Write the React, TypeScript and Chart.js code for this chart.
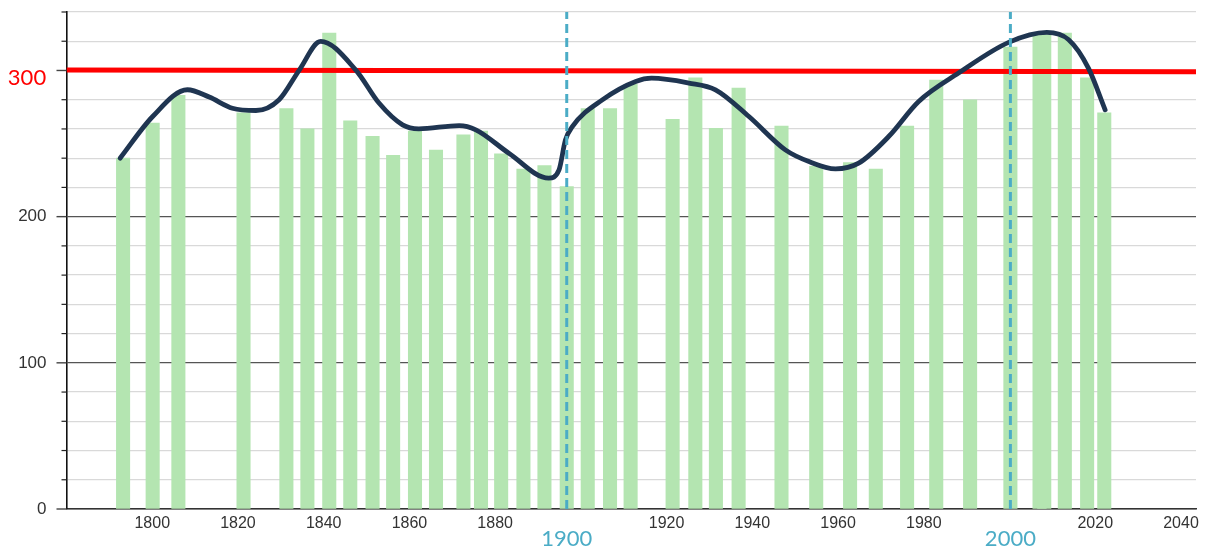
import React, { useEffect, useRef } from "react";
import { Chart, registerables } from "chart.js";

Chart.register(...registerables);

// Bars: year positions and values
const barYears = [1793.2, 1800.1, 1806.1, 1821.3, 1831.3, 1836.2, 1841.3, 1846.2, 1851.4, 1856.2, 1861.3, 1866.2, 1872.6, 1876.7, 1881.4, 1886.6, 1891.5, 1896.7, 1901.6, 1906.8, 1911.6, 1921.4, 1926.7, 1931.5, 1936.8, 1946.8, 1954.9, 1962.8, 1968.8, 1976.1, 1982.9, 1990.8, 2000.2, 2007.0, 2008.1, 2012.9, 2018.1, 2022.1];
const barValues = [240, 264, 283, 271, 274, 260, 325.5, 265.5, 255, 242, 258.5, 245.5, 256, 258.5, 243, 232.5, 235, 220.5, 274, 274, 290.5, 266.5, 295, 260.5, 288, 262, 234.5, 237, 232.5, 262, 293.5, 280, 316, 324.5, 324.5, 325.5, 295, 271];

// Smoothed trend curve
const trendYears = [1792.5, 1800.1, 1808.2, 1813.3, 1818.7, 1824.2, 1829.6, 1834.3, 1839.3, 1847.5, 1852.9, 1858.4, 1862.2, 1871.6, 1875.5, 1883.2, 1892.5, 1894.9, 1896.4, 1898, 1905, 1912.8, 1916.5, 1925.2, 1931.4, 1939.2, 1947.7, 1953.2, 1959.4, 1964.8, 1971.8, 1978.8, 1988.1, 1999.8, 2008.7, 2013.8, 2018.4, 2022.3];
const trendValues = [240, 268.5, 286.8, 281.8, 274.2, 272.6, 280, 300.3, 319.9, 300.3, 277.7, 262.8, 260.1, 262.3, 259.4, 243.4, 226.3, 232, 252.5, 261.6, 279.9, 292.5, 294.7, 291.4, 286.8, 268.5, 245.7, 237.7, 232.7, 236.6, 254.8, 278.8, 298.2, 319.2, 326, 321, 301.6, 273.1];

// Red threshold line
const thresholdYears = [1780, 2043.5];
const thresholdValues = [300.4, 299.2];
const thresholdLabel = "300";

// Dashed century markers
const markerYears = [1896.7, 2000.2];
const markerLabels = ["1900", "2000"];
const markerRange = [0, 340];

// Axes
const xMin = 1780;
const xMax = 2043.5;
const xStep = 20;
const xHiddenLabels = [1780, 1900, 2000];
const yMin = 0;
const yMax = 340;
const yStep = 20;
const yLabelValues = [0, 100, 200];

const overlayPlugin = {
  id: "overlay",
  afterDraw(chart: any) {
    const { ctx, scales } = chart;
    const x = scales.x;
    const y = scales.y;
    const axisX = chart.chartArea.left;
    ctx.save();
    // tick marks on y axis
    y.ticks.forEach((t: any) => {
      const py = y.getPixelForValue(t.value);
      const major = t.value % 100 === 0;
      ctx.beginPath();
      ctx.strokeStyle = major ? "#444" : "#222";
      ctx.lineWidth = major ? 1.4 : 1.2;
      ctx.moveTo(axisX - (major ? 10 : 5), py);
      ctx.lineTo(axisX, py);
      ctx.stroke();
    });
    // red 300 label
    ctx.fillStyle = "#ff0000";
    ctx.font = "22px Lato";
    ctx.textAlign = "center";
    ctx.textBaseline = "middle";
    ctx.fillText(thresholdLabel, 27, y.getPixelForValue(300) + 7);
    // cyan marker labels
    ctx.fillStyle = "#4bacc6";
    markerYears.forEach((yr, i) => {
      ctx.fillText(markerLabels[i], x.getPixelForValue(yr), 539);
    });
    ctx.restore();
  },
};

export default function App() {
  const ref = useRef<HTMLCanvasElement>(null);
  useEffect(() => {
    if (!ref.current) return;
    const markerSets = markerYears.map((yr) => ({
      type: "line" as const,
      data: markerRange.map((v) => ({ x: yr, y: v })),
      borderColor: "#4bacc6",
      borderWidth: 3,
      borderDash: [9, 5],
      pointRadius: 0,
      order: 0,
    }));
    const chart = new Chart(ref.current, {
      type: "bar",
      data: {
        datasets: [
          ...markerSets,
          {
            type: "line",
            data: trendYears.map((yr, i) => ({ x: yr, y: trendValues[i] })),
            borderColor: "#1f3551",
            borderWidth: 4.8,
            pointRadius: 0,
            cubicInterpolationMode: "monotone",
            borderCapStyle: "round",
            order: 1,
          } as any,
          {
            type: "line",
            data: thresholdYears.map((yr, i) => ({ x: yr, y: thresholdValues[i] })),
            borderColor: "#ff0000",
            borderWidth: 5,
            pointRadius: 0,
            order: 2,
          },
          {
            type: "bar",
            data: barYears.map((yr, i) => ({ x: yr, y: barValues[i] })),
            backgroundColor: "#b4e5b1",
            barThickness: 13.4,
            order: 3,
          } as any,
        ],
      },
      options: {
        animation: false,
        responsive: true,
        maintainAspectRatio: false,
        layout: { padding: { top: 12, right: 15, left: 0, bottom: 0 } },
        plugins: { legend: { display: false }, tooltip: { enabled: false } },
        scales: {
          x: {
            type: "linear",
            min: xMin,
            max: xMax,
            offset: false,
            grid: { display: false, drawTicks: false },
            border: { display: true, color: "#333", width: 1.6 },
            afterFit: (s: any) => {
              s.height = 40;
              s.paddingLeft = 0;
              s.paddingRight = 0;
            },
            afterBuildTicks: (s: any) => {
              const t = [];
              for (let v = xMin; v <= xMax; v += xStep) t.push({ value: v });
              s.ticks = t;
            },
            ticks: {
              color: "#333",
              font: { family: "Liberation Sans", size: 16 },
              padding: 5,
              maxRotation: 0,
              autoSkip: false,
              callback: (v: any) => (xHiddenLabels.includes(v) ? "" : String(v)),
            },
          },
          y: {
            type: "linear",
            min: yMin,
            max: yMax,
            grid: {
              drawTicks: false,
              color: (c: any) => (c.tick && c.tick.value % 100 === 0 ? "#555" : "#d9d9d9"),
              lineWidth: 1.3,
            },
            border: { display: true, color: "#111", width: 1.6 },
            afterFit: (s: any) => {
              s.width = 66.5;
              s.paddingTop = 0;
              s.paddingBottom = 0;
            },
            ticks: {
              stepSize: yStep,
              autoSkip: false,
              color: "#333",
              padding: 20,
              font: { family: "Liberation Sans", size: 17 },
              callback: (v: any) => (yLabelValues.includes(v) ? String(v) : ""),
            },
          },
        },
      },
      plugins: [overlayPlugin],
    });
    return () => chart.destroy();
  }, []);
  return (
    <div style={{ position: "fixed", left: 0, top: 0, width: 1211, height: 549, background: "#fff" }}>
      <canvas ref={ref} />
    </div>
  );
}
